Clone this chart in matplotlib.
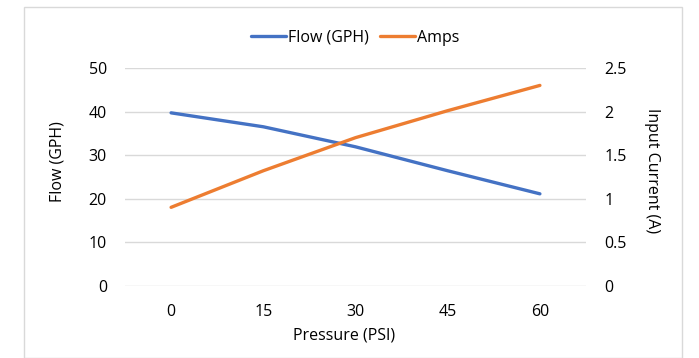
import matplotlib
matplotlib.use("Agg")
import matplotlib.pyplot as plt
from matplotlib.patches import Rectangle

categories = ["0", "15", "30", "45", "60"]
flow_gph = [39.7, 36.5, 31.9, 26.4, 21.1]
amps = [0.90, 1.32, 1.70, 2.01, 2.30]
left_ticks = [0, 10, 20, 30, 40, 50]
right_ticks = [0, 0.5, 1, 1.5, 2, 2.5]
right_tick_labels = ["0", "0.5", "1", "1.5", "2", "2.5"]

plt.rcParams['font.family'] = ['Open Sans', 'DejaVu Sans']
W, H = 699, 358
FS = 11.5
fig = plt.figure(figsize=(W / 100, H / 100), dpi=100)

# chart border
fig.patches.append(Rectangle((24 / W, 0), (682 - 24) / W, 1 - 7 / H,
                             transform=fig.transFigure, fill=False,
                             edgecolor="#d9d9d9", linewidth=1))

x0, x1 = 125, 586
ytop, ybot = 68, 285.7
ax = fig.add_axes([x0 / W, 1 - ybot / H, (x1 - x0) / W, (ybot - ytop) / H])
ax2 = ax.twinx()

xs = list(range(len(categories)))
blue = "#4472C4"
orange = "#ED7D31"
l1, = ax.plot(xs, flow_gph, color=blue, lw=2.4, solid_capstyle="round", label="Flow (GPH)")
l2, = ax2.plot(xs, amps, color=orange, lw=2.4, solid_capstyle="round", label="Amps")

ax.set_xlim(-0.5, len(categories) - 0.5)
ax.set_ylim(0, 50)
ax2.set_ylim(0, 2.5)
ax.set_yticks(left_ticks)
ax2.set_yticks(right_ticks)
ax2.set_yticklabels(right_tick_labels)
ax.set_xticks(xs)
ax.set_xticklabels(categories)

for a in (ax, ax2):
    for s in a.spines.values():
        s.set_visible(False)
    a.tick_params(length=0, labelsize=FS, colors="#000000")
ax.grid(axis="y", color="#d9d9d9", lw=1)
ax.set_axisbelow(True)
ax.tick_params(axis="y", pad=13)
ax2.tick_params(axis="y", pad=13)
ax.tick_params(axis="x", pad=13)

fig.text(344 / W, 1 - 335 / H, "Pressure (PSI)", fontsize=FS, ha="center", va="center")
fig.text(57 / W, 1 - 162 / H, "Flow (GPH)", fontsize=FS, ha="center", va="center",
         rotation=90)
fig.text(652 / W, 1 - 171 / H, "Input Current (A)", fontsize=FS, ha="center",
         va="center", rotation=-90)

fig.legend(handles=[l1, l2], loc="center", bbox_to_anchor=(355 / W, 1 - 38 / H),
           ncol=2, frameon=False, fontsize=FS, handlelength=2.2, columnspacing=0.7,
           handletextpad=0.1)

fig.savefig("out.png", dpi=100)
